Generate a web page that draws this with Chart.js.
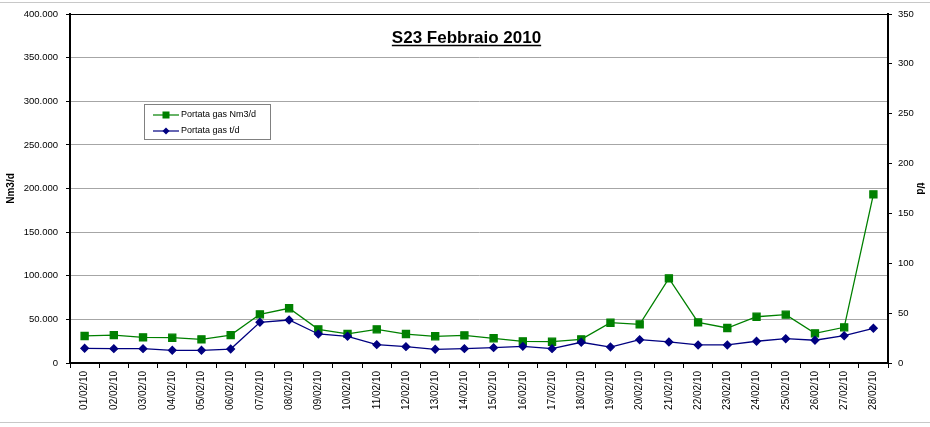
<!DOCTYPE html>
<html><head><meta charset="utf-8">
<script src="https://cdn.jsdelivr.net/npm/chart.js@4/dist/chart.umd.min.js"></script>
<style>html,body{margin:0;padding:0;background:#fff;}#wrap{width:930px;height:427px;position:relative;}</style>
</head><body><div id="wrap"><canvas id="c" width="930" height="427"></canvas></div>
<script>
const chartTitle = 'S23 Febbraio 2010';
const categories = ['01/02/10','02/02/10','03/02/10','04/02/10','05/02/10','06/02/10','07/02/10','08/02/10','09/02/10','10/02/10','11/02/10','12/02/10','13/02/10','14/02/10','15/02/10','16/02/10','17/02/10','18/02/10','19/02/10','20/02/10','21/02/10','22/02/10','23/02/10','24/02/10','25/02/10','26/02/10','27/02/10','28/02/10'];
const portataNm3 = [31000,32000,29400,29000,27100,32000,55800,62700,38600,33400,38600,33200,30600,31700,28300,24800,24400,27100,46200,44300,97000,46600,40100,53000,55400,34000,40900,193300];
const portataTd = [14.7,14.4,14.4,12.7,12.7,14.0,40.8,43.1,29.1,26.8,18.4,16.4,13.7,14.4,15.4,16.7,14.4,20.8,16.0,23.4,21.1,18.1,18.1,21.8,24.4,22.8,27.4,34.8];
const leftTicks = [0,50000,100000,150000,200000,250000,300000,350000,400000];
const rightTicks = [0,50,100,150,200,250,300,350];
const labelNm3 = 'Portata gas Nm3/d';
const labelTd = 'Portata gas t/d';

const FONT = 'Arial, "Liberation Sans", sans-serif';
function fmtIt(v){ return Math.round(v).toString().replace(/\B(?=(\d{3})+(?!\d))/g,'.'); }

const decor = {
  id:'decor',
  beforeDraw(chart){
    const ctx=chart.ctx;
    ctx.save();
    ctx.strokeStyle='#c8c8c8'; ctx.lineWidth=1;
    ctx.beginPath(); ctx.moveTo(0,2.5); ctx.lineTo(930,2.5); ctx.moveTo(0,422.5); ctx.lineTo(930,422.5); ctx.stroke();
    ctx.restore();
  },
  afterDatasetsDraw(chart){
    const ctx=chart.ctx, a=chart.chartArea;
    ctx.save();
    ctx.strokeStyle='#000'; ctx.lineWidth=1;
    ctx.beginPath(); ctx.moveTo(a.left,a.top+0.5); ctx.lineTo(a.right,a.top+0.5); ctx.stroke();
    // title
    ctx.fillStyle='#000'; ctx.font='bold 17px '+FONT; ctx.textAlign='center'; ctx.textBaseline='alphabetic';
    const tx=466.5, ty=43;
    ctx.fillText(chartTitle,tx,ty);
    const w=ctx.measureText(chartTitle).width;
    ctx.lineWidth=1.5; ctx.beginPath(); ctx.moveTo(tx-w/2,ty+2.5); ctx.lineTo(tx+w/2,ty+2.5); ctx.stroke();
    // legend
    const bx=144.5, by=104.5, bw=126, bh=35;
    ctx.fillStyle='#fff'; ctx.fillRect(bx,by,bw,bh);
    ctx.strokeStyle='#808080'; ctx.lineWidth=1; ctx.strokeRect(bx,by,bw,bh);
    const ds=chart.data.datasets;
    const rows=[115,131];
    ds.forEach((d,i)=>{
      const y=rows[i];
      ctx.strokeStyle=d.borderColor; ctx.lineWidth=1.2;
      ctx.beginPath(); ctx.moveTo(153,y); ctx.lineTo(179,y); ctx.stroke();
      ctx.fillStyle=d.pointBackgroundColor;
      if(d.pointStyle==='rect'){ ctx.fillRect(162.5,y-3.5,7,7); }
      else { ctx.beginPath(); ctx.moveTo(166,y-3.5); ctx.lineTo(169.5,y); ctx.lineTo(166,y+3.5); ctx.lineTo(162.5,y); ctx.closePath(); ctx.fill(); }
      ctx.fillStyle='#000'; ctx.font='9px '+FONT; ctx.textAlign='left'; ctx.textBaseline='middle';
      ctx.fillText(d.label,181,y);
    });
    ctx.restore();
  }
};

new Chart(document.getElementById('c'),{
  type:'line',
  data:{labels:categories,datasets:[
    {label:labelNm3,data:portataNm3,yAxisID:'y',borderColor:'#008000',backgroundColor:'#008000',pointBackgroundColor:'#008000',pointBorderColor:'#008000',pointStyle:'rect',pointRadius:5,borderWidth:1.3,tension:0,order:2},
    {label:labelTd,data:portataTd,yAxisID:'y2',borderColor:'#000080',backgroundColor:'#000080',pointBackgroundColor:'#000080',pointBorderColor:'#000080',pointStyle:'rectRot',pointRadius:3.8,borderWidth:1.3,tension:0,order:1}
  ]},
  options:{
    responsive:false,animation:false,devicePixelRatio:1,
    layout:{padding:{top:14,left:0,right:0,bottom:0}},
    plugins:{legend:{display:false},tooltip:{enabled:false},title:{display:false}},
    scales:{
      x:{type:'category',offset:true,
        grid:{display:true,offset:true,drawOnChartArea:false,drawTicks:true,tickLength:5,color:'#000'},
        border:{display:true,color:'#000',width:2},
        ticks:{autoSkip:false,maxRotation:90,minRotation:90,padding:3,color:'#000',font:{family:FONT,size:10}},
        afterFit(s){s.height=64;}
      },
      y:{position:'left',min:0,max:400000,
        afterBuildTicks(s){s.ticks=leftTicks.map(v=>({value:v}));},
        grid:{color:'#a6a6a6',lineWidth:1,drawTicks:true,tickLength:4,tickColor:'#000'},
        border:{display:true,color:'#000',width:2},
        ticks:{padding:8,color:'#000',font:{family:FONT,size:9.5},callback:v=>fmtIt(v)},
        title:{display:true,text:'Nm3/d',color:'#000',font:{family:FONT,size:10,weight:'bold'},padding:{top:5,bottom:0}},
        afterFit(s){s.width=70;}
      },
      y2:{position:'right',min:0,max:350,
        afterBuildTicks(s){s.ticks=rightTicks.map(v=>({value:v}));},
        grid:{drawOnChartArea:false,drawTicks:true,tickLength:4,tickColor:'#000'},
        border:{display:true,color:'#000',width:2},
        ticks:{padding:6,color:'#000',font:{family:FONT,size:9.5},callback:v=>String(v)},
        title:{display:true,text:'t/d',color:'#000',font:{family:FONT,size:10,weight:'bold'},padding:{top:4,bottom:0}},
        afterFit(s){s.width=42;}
      }
    }
  },
  plugins:[decor]
});
</script></body></html>
